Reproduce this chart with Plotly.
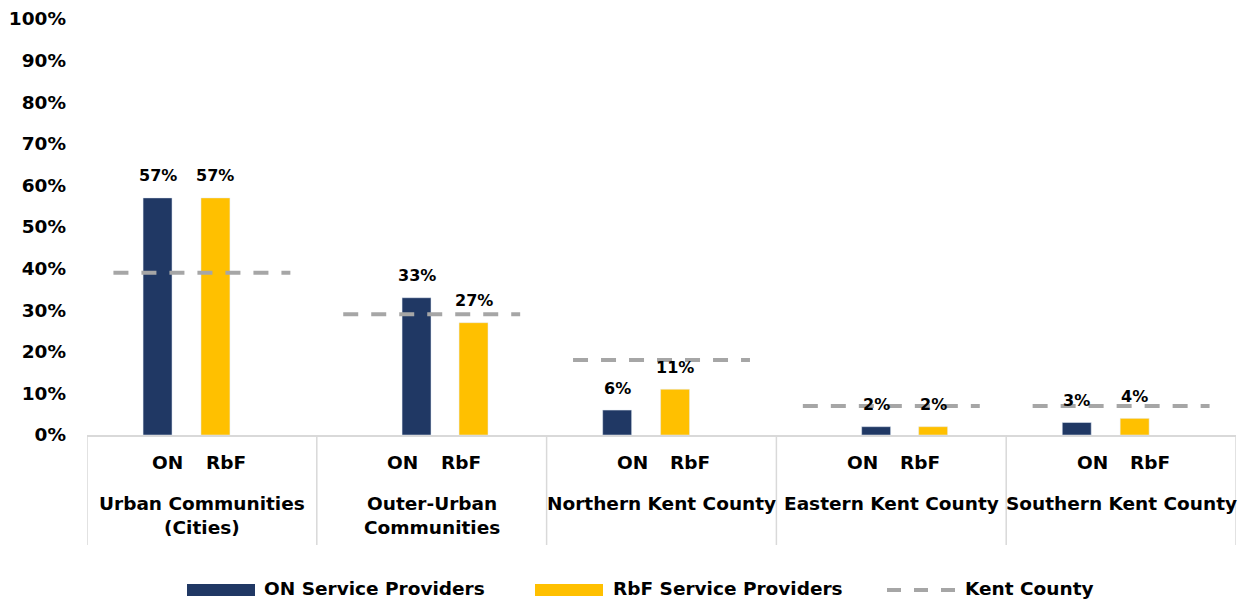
import plotly.graph_objects as go

# ---- data ----
categories = ["Urban Communities<br>(Cities)", "Outer-Urban<br>Communities",
              "Northern Kent County", "Eastern Kent County", "Southern Kent County"]
sub_labels = ["ON", "RbF"]
on_values = [57, 33, 6, 2, 3]
rbf_values = [57, 27, 11, 2, 4]
kent_values = [39, 29, 18, 7, 7]
y_ticks = [0, 10, 20, 30, 40, 50, 60, 70, 80, 90, 100]
legend_names = ["ON Service Providers", "RbF Service Providers", "Kent County"]

# ---- styling / layout constants ----
NAVY = "#203864"
GOLD = "#FFC000"
GREY = "#A6A6A6"
DIV = "#D9D9D9"
FONT = "DejaVu Sans"
FS = 18.5
W, H = 1241, 600
ML, MR, MT, MB = 87, 5, 19, 165
PW, PH = W - ML - MR, H - MT - MB

BAR_W = 0.126
on_off = [-0.193, -0.066, -0.193, -0.066, -0.193]
rbf_off = [0.059, 0.182, 0.059, 0.182, 0.059]
sub_shift = [-0.022, 0, 0, 0, 0]
KENT_HALF = 0.385


def px_x(p):
    return (p - ML) / PW


def px_y(p):
    return (H - MB - p) / PH


centers = [i + 0.5 for i in range(len(categories))]
on_x = [c + o for c, o in zip(centers, on_off)]
rbf_x = [c + o for c, o in zip(centers, rbf_off)]

fig = go.Figure()
fig.add_trace(go.Bar(x=on_x, y=on_values, width=BAR_W, marker_color=NAVY,
                     name=legend_names[0], showlegend=False))
fig.add_trace(go.Bar(x=rbf_x, y=rbf_values, width=BAR_W, marker_color=GOLD,
                     name=legend_names[1], showlegend=False))

kx, ky = [], []
for c, v in zip(centers, kent_values):
    kx += [c - KENT_HALF, c + KENT_HALF, None]
    ky += [v, v, None]
fig.add_trace(go.Scatter(x=kx, y=ky, mode="lines", name=legend_names[2],
                         line=dict(color=GREY, width=4, dash="15px,13px"),
                         showlegend=False))

annotations = []
# value labels above bars
for xs, vals in ((on_x, on_values), (rbf_x, rbf_values)):
    for x, v in zip(xs, vals):
        annotations.append(dict(x=x, y=v, xref="x", yref="y", text=f"<b>{v}%</b>",
                                showarrow=False, yanchor="middle", yshift=22,
                                font=dict(family=FONT, size=16, color="black")))

# two-level category labels
for c, s, name in zip(centers, sub_shift, categories):
    for lab, dx in zip(sub_labels, (-0.126, 0.126)):
        annotations.append(dict(x=c + s + dx, y=px_y(462), xref="x", yref="paper",
                                text=f"<b>{lab}</b>", showarrow=False,
                                yanchor="middle",
                                font=dict(family=FONT, size=FS, color="black")))
    annotations.append(dict(x=c, y=px_y(491), xref="x", yref="paper",
                            text=f"<b>{name}</b>",
                            showarrow=False, yanchor="top", align="center",
                            font=dict(family=FONT, size=FS, color="black")))

shapes = []
for i in range(len(categories) + 1):
    shapes.append(dict(type="line", xref="x", yref="paper", x0=i, x1=i,
                       y0=0, y1=px_y(545), line=dict(color=DIV, width=1.5)))

# legend drawn below the plot
LEG_Y = 588
shapes.append(dict(type="rect", xref="paper", yref="paper",
                   x0=px_x(187), x1=px_x(255), y0=px_y(584), y1=px_y(596),
                   fillcolor=NAVY, line=dict(width=0)))
shapes.append(dict(type="rect", xref="paper", yref="paper",
                   x0=px_x(535), x1=px_x(603), y0=px_y(584), y1=px_y(596),
                   fillcolor=GOLD, line=dict(width=0)))
shapes.append(dict(type="line", xref="paper", yref="paper",
                   x0=px_x(887), x1=px_x(958), y0=px_y(590), y1=px_y(590),
                   line=dict(color=GREY, width=4, dash="14px,13px")))
for name, lx in zip(legend_names, (263, 612, 964)):
    annotations.append(dict(x=px_x(lx), y=px_y(LEG_Y), xref="paper", yref="paper",
                            text=f"<b>{name}</b>", showarrow=False,
                            xanchor="left", yanchor="middle", borderpad=0,
                            font=dict(family=FONT, size=FS, color="black")))

fig.update_layout(
    width=W, height=H,
    margin=dict(l=ML, r=MR, t=MT, b=MB),
    plot_bgcolor="white", paper_bgcolor="white",
    barmode="overlay",
    showlegend=False,
    annotations=annotations,
    shapes=shapes,
    font=dict(family=FONT, color="black"),
)
fig.update_xaxes(range=[0, len(categories)], showticklabels=False, showgrid=False,
                 zeroline=False, showline=True, linecolor=DIV, linewidth=1.5,
                 fixedrange=True)
fig.update_yaxes(range=[0, 100], tickvals=y_ticks,
                 ticktext=[f"<b>{t}%</b>" for t in y_ticks],
                 showgrid=False, zeroline=False, showline=False,
                 ticklabelstandoff=20,
                 tickfont=dict(family=FONT, size=FS, color="black"))

fig.write_html("out.html")
